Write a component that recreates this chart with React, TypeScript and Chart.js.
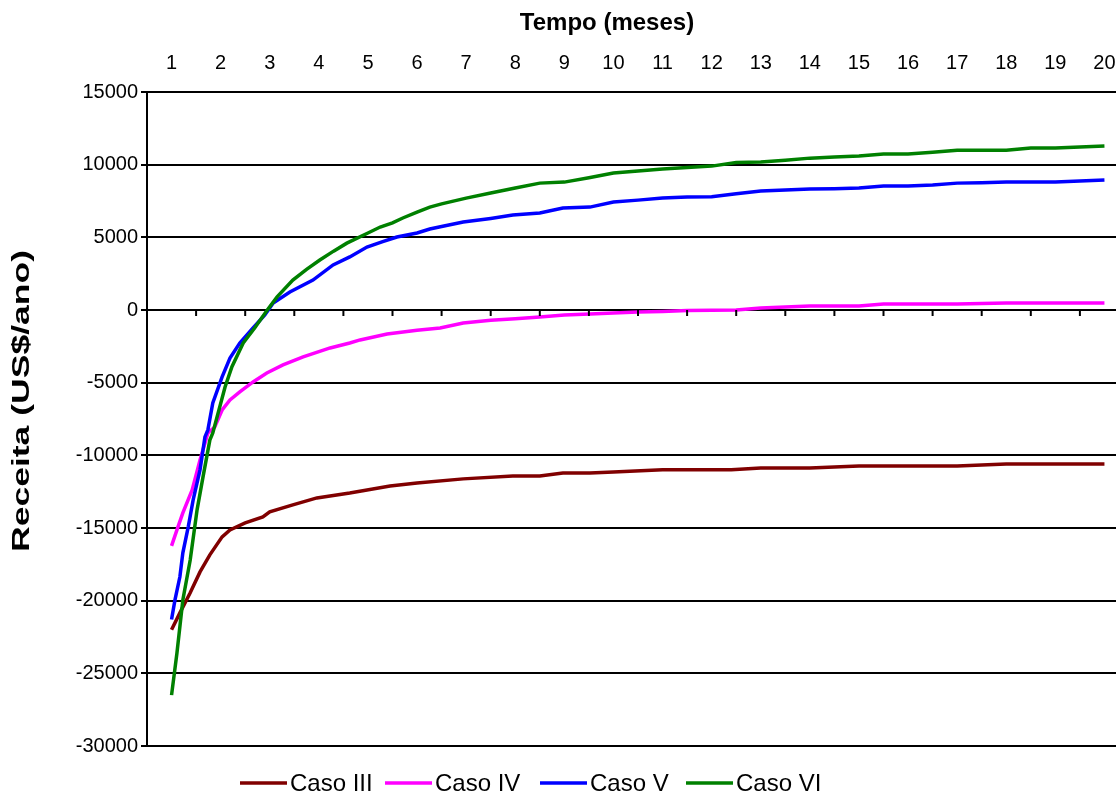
import React, { useEffect, useRef } from "react";
import { Chart, registerables } from "chart.js";

Chart.register(...registerables);

const MONTH_LABELS = [1, 2, 3, 4, 5, 6, 7, 8, 9, 10, 11, 12, 13, 14, 15, 16, 17, 18, 19, 20];
const Y_MIN = -30000;
const Y_MAX = 15000;
const Y_STEP = 5000;

const SERIES_NAMES = ["Caso III", "Caso IV", "Caso V", "Caso VI"];
const SERIES_COLORS = ["#800000", "#FF00FF", "#0000FF", "#008000"];

const CASO_III_T = [1, 1.17, 1.38, 1.58, 1.78, 2.03, 2.19, 2.5, 2.86, 3.0, 3.47, 3.96, 4.63, 5.45, 6, 6.94, 7.95, 8.5, 8.97, 9.52, 10, 11, 12.4, 13, 14, 15, 16, 17, 18, 19, 20];
const CASO_III_R = [-22000, -20840, -19460, -18020, -16850, -15610, -15130, -14650, -14240, -13890, -13410, -12930, -12590, -12110, -11900, -11620, -11420, -11420, -11210, -11210, -11140, -11000, -11000, -10870, -10870, -10730, -10730, -10730, -10590, -10590, -10590];

const CASO_IV_T = [1, 1.11, 1.23, 1.42, 1.58, 1.74, 1.88, 2.03, 2.19, 2.39, 2.66, 2.94, 3.27, 3.68, 4.23, 4.63, 4.84, 5.39, 6, 6.47, 6.94, 7.5, 8, 8.5, 9, 9.52, 10, 10.5, 11, 11.5, 12, 12.5, 13, 13.5, 14, 14.5, 15, 15.5, 16, 16.5, 17, 17.5, 18, 18.5, 19, 19.5, 20];
const CASO_IV_R = [-16230, -15130, -13960, -12380, -10320, -8460, -8050, -6880, -6190, -5640, -4950, -4330, -3780, -3230, -2610, -2270, -2060, -1650, -1400, -1240, -890, -700, -600, -480, -350, -275, -200, -140, -100, -40, -20, 0, 140, 200, 275, 275, 275, 410, 410, 410, 410, 450, 480, 480, 480, 480, 480];

const CASO_V_T = [1, 1.07, 1.17, 1.23, 1.34, 1.44, 1.58, 1.68, 1.74, 1.84, 2.03, 2.19, 2.39, 2.66, 2.9, 3.07, 3.41, 3.88, 4.29, 4.63, 4.98, 5.3, 5.59, 6, 6.26, 6.5, 6.94, 7.5, 7.95, 8.5, 8.97, 9.52, 10, 10.5, 11, 11.5, 12, 12.5, 13, 13.5, 14, 14.5, 15, 15.5, 16, 16.5, 17, 17.5, 18, 18.5, 19, 19.5, 20];
const CASO_V_R = [-21300, -19950, -18360, -16710, -14920, -13070, -11000, -8730, -8250, -6400, -4600, -3300, -2270, -1240, -340, 480, 1240, 2060, 3100, 3650, 4330, 4700, 5020, 5300, 5570, 5750, 6050, 6300, 6530, 6670, 7020, 7080, 7430, 7560, 7700, 7770, 7800, 8000, 8180, 8250, 8320, 8350, 8390, 8530, 8530, 8600, 8730, 8760, 8800, 8800, 8800, 8870, 8940];

const CASO_VI_T = [1, 1.11, 1.23, 1.38, 1.52, 1.64, 1.78, 1.84, 2.09, 2.23, 2.46, 2.7, 2.95, 3.15, 3.47, 3.75, 4.02, 4.3, 4.57, 5, 5.25, 5.5, 5.71, 6, 6.26, 6.5, 7, 7.5, 8, 8.5, 9, 9.5, 10, 10.5, 11, 11.5, 12, 12.5, 13, 13.5, 14, 14.5, 15, 15.5, 16, 16.5, 17, 17.5, 18, 18.5, 19, 19.5, 20];
const CASO_VI_R = [-26500, -23600, -19950, -17200, -13750, -11500, -8950, -8460, -5300, -3900, -2270, -1200, 0, 900, 2060, 2800, 3440, 4050, 4600, 5300, 5710, 6000, 6330, 6740, 7080, 7300, 7700, 8050, 8390, 8730, 8800, 9100, 9420, 9560, 9700, 9800, 9900, 10150, 10180, 10300, 10450, 10520, 10590, 10730, 10730, 10860, 11000, 11000, 11000, 11140, 11140, 11210, 11280];

const SERIES_T = [CASO_III_T, CASO_IV_T, CASO_V_T, CASO_VI_T];
const SERIES_R = [CASO_III_R, CASO_IV_R, CASO_V_R, CASO_VI_R];

const X_TITLE = "Tempo (meses)";
const Y_TITLE = "Receita (US$/ano)";

const FONT = "'Liberation Sans', Arial, sans-serif";

const decorPlugin = {
  id: "decor",
  afterDraw(chart: any) {
    const ctx = chart.ctx as CanvasRenderingContext2D;
    const xs = chart.scales.x;
    const ys = chart.scales.y;
    const area = chart.chartArea;
    ctx.save();
    // tick marks on the zero line (between month labels)
    const y0 = ys.getPixelForValue(0);
    ctx.strokeStyle = "#000";
    ctx.lineWidth = 2;
    for (let k = 0; k <= MONTH_LABELS.length; k++) {
      const v = MONTH_LABELS[0] - 0.5 + k;
      const px = xs.getPixelForValue(v);
      if (px <= area.left + 1) continue;
      ctx.beginPath();
      ctx.moveTo(px, y0);
      ctx.lineTo(px, y0 + 6);
      ctx.stroke();
    }
    // x title
    ctx.fillStyle = "#000";
    ctx.font = `bold 24px ${FONT}`;
    ctx.textAlign = "center";
    ctx.textBaseline = "middle";
    ctx.fillText(X_TITLE, 607, 23);
    // y title
    ctx.save();
    ctx.translate(22, 401);
    ctx.rotate(-Math.PI / 2);
    const w = ctx.measureText(Y_TITLE).width;
    const target = 302;
    ctx.scale(target / w, 1);
    ctx.fillText(Y_TITLE, 0, 0);
    ctx.restore();
    // legend
    const legendY = 783;
    const swatches = [240, 385, 540, 686];
    ctx.font = `24px ${FONT}`;
    ctx.textAlign = "left";
    ctx.textBaseline = "middle";
    SERIES_NAMES.forEach((name, i) => {
      const sx = swatches[i];
      ctx.strokeStyle = SERIES_COLORS[i];
      ctx.lineWidth = 3.5;
      ctx.beginPath();
      ctx.moveTo(sx, legendY);
      ctx.lineTo(sx + 47, legendY);
      ctx.stroke();
      ctx.fillStyle = "#000";
      ctx.fillText(name, sx + 50, legendY + 1);
    });
    ctx.restore();
  },
};

export default function App() {
  const ref = useRef<HTMLCanvasElement | null>(null);

  useEffect(() => {
    if (!ref.current) return;
    const datasets = SERIES_NAMES.map((name, i) => ({
      label: name,
      data: SERIES_T[i].map((t, j) => ({ x: t, y: SERIES_R[i][j] })),
      borderColor: SERIES_COLORS[i],
      backgroundColor: SERIES_COLORS[i],
      borderWidth: 3.5,
      pointRadius: 0,
      tension: 0,
      fill: false,
      order: SERIES_NAMES.length - i,
    }));
    const chart = new Chart(ref.current, {
      type: "line",
      data: { datasets },
      options: {
        animation: false,
        responsive: false,
        parsing: true,
        layout: { padding: { left: 0, top: 0, right: 11, bottom: 52 } },
        plugins: { legend: { display: false }, tooltip: { enabled: false }, title: { display: false } },
        scales: {
          x: {
            type: "linear",
            position: "top",
            min: MONTH_LABELS[0] - 0.5,
            max: MONTH_LABELS[MONTH_LABELS.length - 1] + 0.5,
            grid: { display: false, drawTicks: false },
            border: { display: false },
            afterBuildTicks: (scale: any) => {
              scale.ticks = MONTH_LABELS.map((v) => ({ value: v }));
            },
            afterFit: (scale: any) => {
              scale.height = 92;
            },
            ticks: {
              autoSkip: false,
              maxRotation: 0,
              padding: 17,
              color: "#000",
              font: { family: FONT, size: 20 },
              callback: (v: any) => String(v),
            },
          },
          y: {
            type: "linear",
            min: Y_MIN,
            max: Y_MAX,
            afterFit: (scale: any) => {
              scale.width = 147;
            },
            grid: { color: "#000", lineWidth: 2, drawTicks: true, tickLength: 6, tickColor: "#000" },
            border: { display: true, color: "#000", width: 2 },
            ticks: {
              stepSize: Y_STEP,
              padding: 3,
              color: "#000",
              font: { family: FONT, size: 20 },
              callback: (v: any) => String(v),
            },
          },
        },
      },
      plugins: [decorPlugin],
    });
    return () => chart.destroy();
  }, []);

  return (
    <div style={{ position: "fixed", left: 0, top: 0, width: 1116, height: 798, overflow: "hidden", background: "#fff" }}>
      <canvas ref={ref} width={1140} height={798} style={{ display: "block", width: 1140, height: 798 }} />
    </div>
  );
}
